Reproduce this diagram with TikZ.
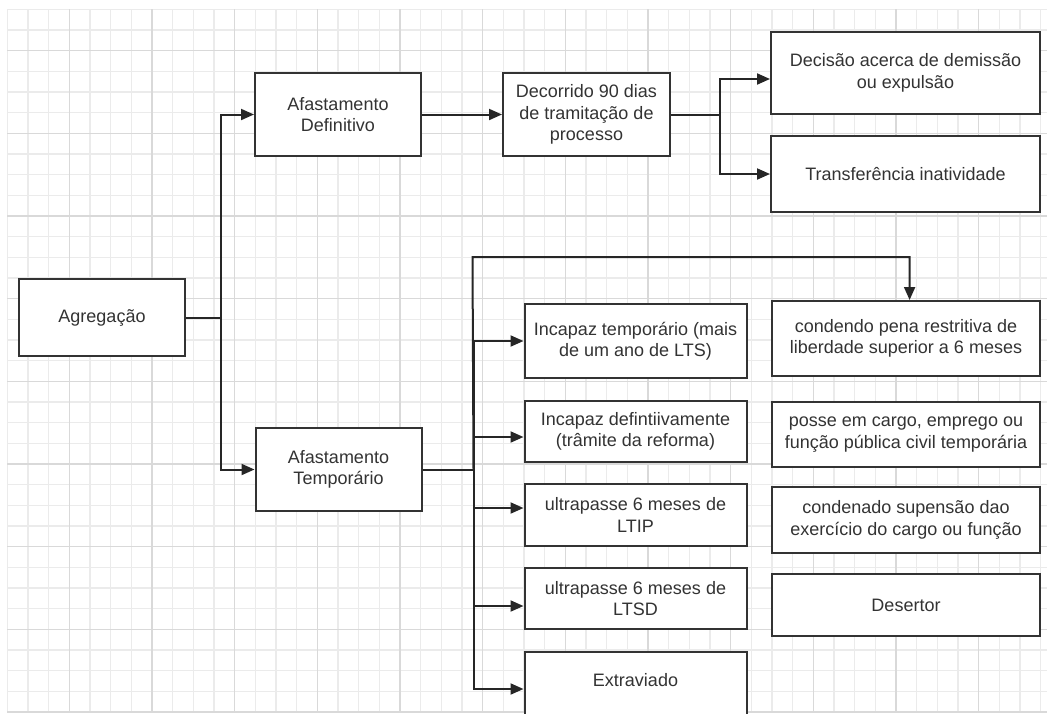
\documentclass[tikz,border=0pt]{standalone}
\usepackage{fontspec}
\setmainfont{Liberation Sans}
\usepackage{tikz}
\usetikzlibrary{positioning,arrows.meta,shapes}
\usepackage{xcolor}
\definecolor{gridminor}{HTML}{EBEBEB}
\definecolor{gridmajor}{HTML}{D9D9D9}
\definecolor{ink}{HTML}{333333}

\begin{document}
\begin{tikzpicture}[x=1pt, y=-1pt,
    every node/.style={font=\fontsize{18}{21.5}\selectfont, text=ink},
    box/.style={draw=ink, line width=2pt, fill=white, align=center, inner sep=0pt},
    link/.style={draw=black!85, line width=2pt, -{Triangle[length=13pt,width=11pt]}}]
        \useasboundingbox (0,0) rectangle (1047,713);
        \clip (0,0) rectangle (1047,713);

        % Grid
        \foreach \i in {0,...,50} {
            \draw[gridminor, line width=1.3pt] (7.3+20.67*\i,9.3) -- (7.3+20.67*\i,713);
            \draw[gridminor, line width=1.3pt] (7.3,9.3+20.67*\i) -- (1047,9.3+20.67*\i);
        }
        \foreach \i in {0,...,12} {
            \draw[gridmajor, line width=1.3pt] (69.3+82.68*\i,9.3) -- (69.3+82.68*\i,713);
            \draw[gridmajor, line width=1.3pt] (7.3,50.64+82.68*\i) -- (1047,50.64+82.68*\i);
        }

        % Level 0
        \node[box, minimum width=166, minimum height=77] (agg) at (102,317.5) {Agrega\c{c}\~ao};

        % Level 1
        \node[box, minimum width=166, minimum height=83] (afd) at (338,114.5) {Afastamento\\Definitivo};
        \node[box, minimum width=166, minimum height=83] (aft) at (338.5,469.5) {Afastamento\\Tempor\'ario};

        \draw[link] (agg.east) -- ++(35,0) coordinate (ja) |- (afd.west);
        \draw[link] (ja) |- (aft.west);

        % Level 2 (definitivo)
        \node[box, minimum width=167, minimum height=83] (dec) at (586.5,114.5) {Decorrido 90 dias\\de tramita\c{c}\~ao de\\processo};
        \node[box, minimum width=269, minimum height=82] (dem) at (905.5,73) {Decis\~ao acerca de demiss\~ao\\ou expuls\~ao};
        \node[box, minimum width=269, minimum height=76] (tra) at (905.5,174) {Transfer\^encia inatividade};

        \draw[link] (afd) -- (dec);
        \draw[link] (dec.east) -- ++(49,0) coordinate (jd) |- ([yshift=-6pt]dem.west);
        \draw[link] (jd) |- (tra.west);

        % Level 2 (tempor\'ario)
        \node[box, minimum width=222, minimum height=74] (itp) at (635.5,341) {Incapaz tempor\'ario (mais\\de um ano de LTS)};
        \node[box, minimum width=222, minimum height=61] (idf) at (635.5,431.5) {Incapaz defintiivamente\\(tr\^amite da reforma)};
        \node[box, minimum width=222, minimum height=62] (ltip) at (635.5,515) {ultrapasse 6 meses de\\LTIP};
        \node[box, minimum width=222, minimum height=61] (ltsd) at (635.5,598.5) {ultrapasse 6 meses de\\LTSD};
        \node[box, minimum width=222, minimum height=74] (ext) at (635.5,689) {};
        \node (extt) at (635.5,680) {Extraviado};

        \node[box, minimum width=268, minimum height=75] (pena) at (906,338.5) {condendo pena restritiva de\\liberdade superior a 6 meses};
        \node[box, minimum width=268, minimum height=65] (posse) at (906,434.5) {posse em cargo, emprego ou\\fun\c{c}\~ao p\'ublica civil tempor\'aria};
        \node[box, minimum width=268, minimum height=66] (cond) at (906,520) {condenado supens\~ao dao\\exerc\'icio do cargo ou fun\c{c}\~ao};
        \node[box, minimum width=268, minimum height=62] (des) at (906,605) {Desertor};

        \draw[link] (aft.east) -- ++(51,0) coordinate (jt) |- (itp.west);
        \draw[link] (jt) |- ([yshift=-5.5pt]idf.west);
        \draw[link] (jt) |- ([yshift=7pt]ltip.west);
        \draw[link] (jt) |- ([yshift=-7.5pt]ltsd.west);
        \draw[link] (jt) |- (ext.west);
        \coordinate (top) at (472.5,257);
        \draw[link] (jt) -- (top) -| ([xshift=3.6pt]pena.north);
    \end{tikzpicture}
\end{document}
